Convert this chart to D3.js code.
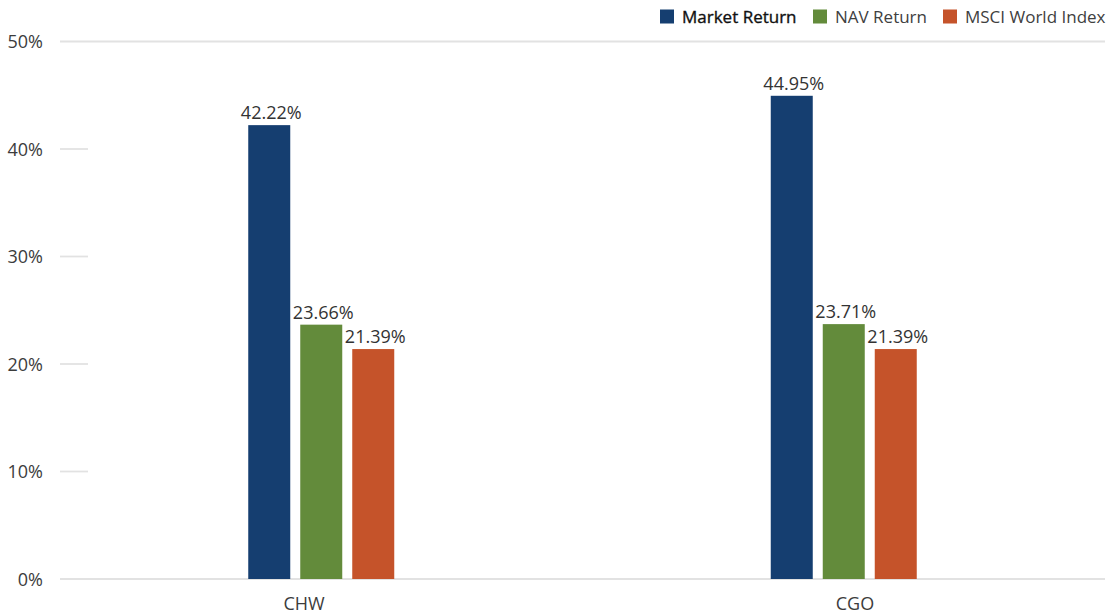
<!DOCTYPE html>
<html>
<head>
<meta charset="utf-8">
<script src="https://cdn.jsdelivr.net/npm/d3@7"></script>
<style>
  html, body { margin: 0; padding: 0; background: #fff; }
  svg { display: block; font-family: "Open Sans", sans-serif; }
</style>
</head>
<body>
<svg id="chart" width="1107" height="615"></svg>
<script>
const categories = ["CHW", "CGO"];
const seriesNames = ["Market Return", "NAV Return", "MSCI World Index"];
const marketReturn = [42.22, 44.95];
const navReturn = [23.66, 23.71];
const msciWorld = [21.39, 21.39];
const yTicks = [0, 10, 20, 30, 40, 50];
const colors = ["#153e70", "#638b3b", "#c5532a"];

const seriesValues = [marketReturn, navReturn, msciWorld];
const rows = categories.map((c, i) => ({
  cat: c,
  vals: seriesNames.map((s, j) => ({ series: s, idx: j, value: seriesValues[j][i] }))
}));

const svg = d3.select("#chart");
const x0 = d3.scaleBand().domain(categories).range([60, 1105]).padding(0);
const x1 = d3.scaleBand().domain(seriesNames).range([-73, 73]).paddingInner(10 / 52).paddingOuter(0);
const y = d3.scaleLinear().domain([0, 50]).range([579, 41.5]);
const xLabel = d3.scaleBand().domain(categories).range([28.5, 1130.5]).padding(0);

// tick lines / gridlines
svg.append("g").selectAll("line").data(yTicks).join("line")
  .attr("x1", 60)
  .attr("x2", d => (d === 0 || d === 50) ? 1105 : 88)
  .attr("y1", d => y(d)).attr("y2", d => y(d))
  .attr("stroke", "#e2e2e2")
  .attr("stroke-width", d => d === 0 ? 2.2 : 1.8);

// y tick labels
svg.append("g").selectAll("text").data(yTicks).join("text")
  .attr("x", 43)
  .attr("y", d => y(d) + 6.5)
  .attr("text-anchor", "end")
  .attr("font-size", 18)
  .attr("fill", "#3c3c3c")
  .text(d => d + "%");

// bars
const groups = svg.append("g").selectAll("g").data(rows).join("g")
  .attr("transform", d => `translate(${x0(d.cat) + x0.bandwidth() / 2},0)`);

groups.selectAll("rect").data(d => d.vals).join("rect")
  .attr("x", d => x1(d.series))
  .attr("width", x1.bandwidth())
  .attr("y", d => y(d.value))
  .attr("height", d => y(0) - y(d.value))
  .attr("fill", d => colors[d.idx]);

groups.selectAll("text").data(d => d.vals).join("text")
  .attr("x", d => x1(d.series) + x1.bandwidth() / 2 + 2)
  .attr("y", d => y(d.value) - 6)
  .attr("text-anchor", "middle")
  .attr("font-size", 18)
  .attr("fill", "#333")
  .text(d => d.value.toFixed(2) + "%");

// category labels
svg.append("g").selectAll("text").data(categories).join("text")
  .attr("x", d => xLabel(d) + xLabel.bandwidth() / 2)
  .attr("y", 610)
  .attr("text-anchor", "middle")
  .attr("font-size", 18)
  .attr("fill", "#3c3c3c")
  .text(d => d);

// legend
const legendX = [660, 813, 943];
const lg = svg.append("g").selectAll("g").data(seriesNames).join("g")
  .attr("transform", (d, i) => `translate(${legendX[i]},0)`);
lg.append("rect").attr("x", 0).attr("y", 9.5).attr("width", 14).attr("height", 14)
  .attr("fill", (d, i) => colors[i]);
lg.append("text").attr("x", 22).attr("y", 23)
  .attr("font-size", 17)
  .attr("fill", (d, i) => i === 0 ? "#111" : "#404040")
  .attr("stroke", (d, i) => i === 0 ? "#111" : "none")
  .attr("stroke-width", 0.35)
  .text(d => d);
</script>
</body>
</html>
